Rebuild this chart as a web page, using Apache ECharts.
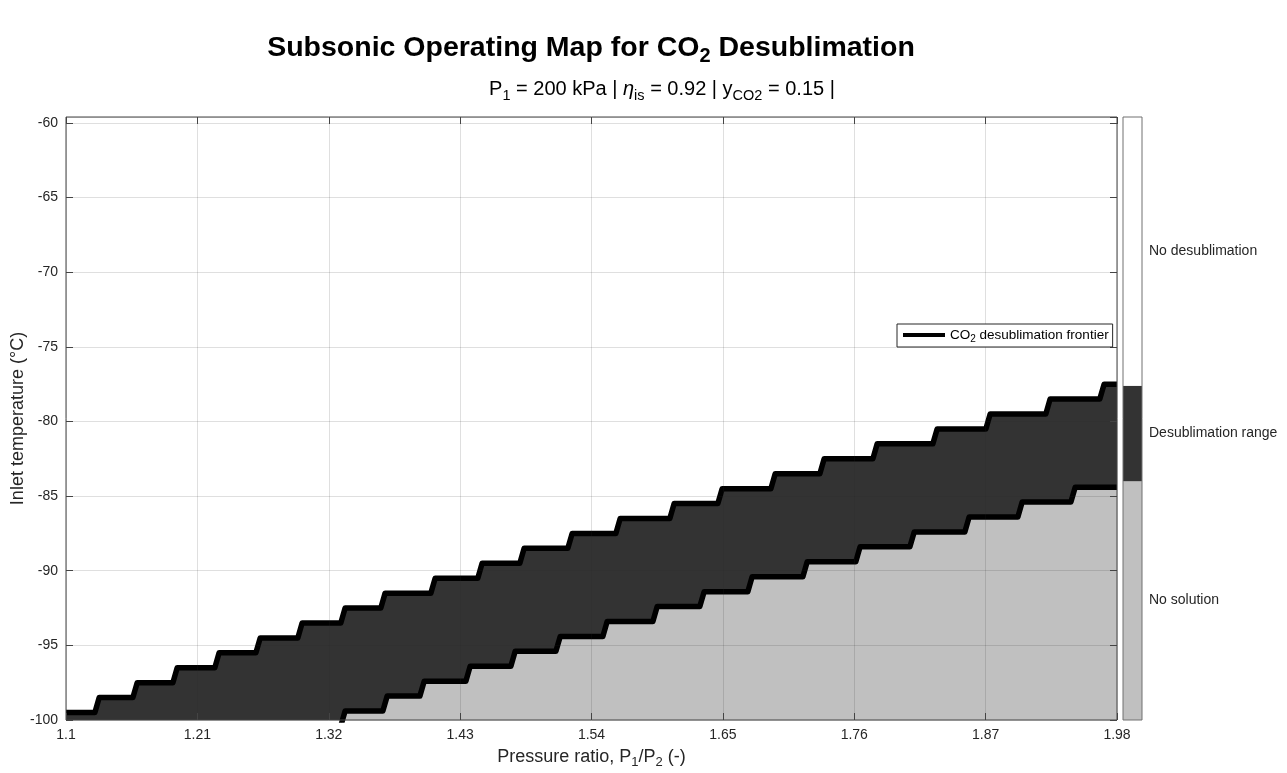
<!DOCTYPE html>
<html>
<head>
<meta charset="UTF-8">
<title>Subsonic Operating Map for CO2 Desublimation</title>
<style>
  html, body { margin: 0; padding: 0; background: #fff; }
  #chart { width: 1287px; height: 773px; }
</style>
<script src="https://cdn.jsdelivr.net/npm/echarts@6.0.0/dist/echarts.min.js"></script>
</head>
<body>
<div id="chart"></div>
<script>
// upper frontier: pressure ratio where the line climbs one step, and the levels (first = level at PR 1.1)
var upperRiseX = [1.1260, 1.1578, 1.1913, 1.2264, 1.2608, 1.2959, 1.3319, 1.3654, 1.4073, 1.4466, 1.4818,
                  1.5220, 1.5622, 1.6074, 1.6476, 1.6920, 1.7330, 1.7774, 1.8276, 1.8720, 1.9222, 1.9674];
var upperLevels = [-99.5, -98.5, -97.5, -96.5, -95.5, -94.5, -93.5, -92.5, -91.5, -90.5, -89.5, -88.5,
                   -87.5, -86.5, -85.5, -84.5, -83.5, -82.5, -81.5, -80.5, -79.5, -78.5, -77.5];

// lower frontier: first rise is where it comes up from below the axis
var lowerRiseX = [1.3319, 1.3671, 1.3981, 1.4366, 1.4743, 1.5120, 1.5513, 1.5932, 1.6325, 1.6727, 1.7188,
                  1.7631, 1.8084, 1.8544, 1.8988, 1.9432];
var lowerLevels = [-100.4, -99.4, -98.4, -97.4, -96.4, -95.4, -94.4, -93.4, -92.4, -91.4, -90.4, -89.4,
                   -88.4, -87.4, -86.4, -85.4, -84.4];

// colorbar: edges (bottom to top) and names
var colorbarEdges = [-100, -84.0, -77.6, -59.6];
var colorbarNames = ['No solution', 'Desublimation range', 'No desublimation'];

var xMin = 1.1, xMax = 1.98, xStep = 0.11;
var yMin = -100, yMax = -59.6, yStep = 5;

var frontierName = 'CO2 desublimation frontier';
var fillColors = ['#c0c0c0', '#333333', '#ffffff'];
var font = "'Liberation Sans', Arial, Helvetica, sans-serif";
var ink = '#262626';

var RISE = 0.0018; // half width of the slanted riser

function staircase(riseX, levels, xStart, xEnd) {
	var pts = [];
	if (xStart != null) pts.push([xStart, levels[0]]);
	for (var i = 0; i < riseX.length; i++) {
		pts.push([riseX[i] - RISE, levels[i]]);
		pts.push([riseX[i] + RISE, levels[i + 1]]);
	}
	pts.push([xEnd, levels[levels.length - 1]]);
	return pts;
}

var upperData = staircase(upperRiseX, upperLevels, xMin, xMax);
var lowerData = staircase(lowerRiseX, lowerLevels, null, xMax);

var colorbarSeries = colorbarNames.map(function (name, i) {
	return {
		name: name,
		type: 'bar',
		xAxisIndex: 2,
		yAxisIndex: 2,
		stack: 'cb',
		barWidth: '100%',
		data: [colorbarEdges[i + 1] - colorbarEdges[i]],
		itemStyle: { color: fillColors[i] },
		label: {
			show: true,
			position: 'right',
			distance: 7,
			formatter: name,
			color: ink,
			fontSize: 14,
			fontFamily: font
		},
		emphasis: { disabled: true }
	};
});

var gridLine = { show: true, lineStyle: { color: 'rgba(38,38,38,0.15)', width: 1 } };
var tick = { show: true, inside: true, length: 7, lineStyle: { color: '#444' } };

var myChart = echarts.init(document.getElementById('chart'));
myChart.setOption({
	animation: false,
	textStyle: { fontFamily: font },
	title: [
		{
			text: '{b|Subsonic Operating Map for CO}{s|2}{b| Desublimation}',
			left: 586,
			textAlign: 'center',
			top: 25,
			textStyle: {
				fontWeight: 'bold',
				rich: {
					b: { fontSize: 28.5, fontWeight: 'bold', color: '#000', fontFamily: font },
					s: { fontSize: 20, fontWeight: 'bold', color: '#000', fontFamily: font, padding: [16, 0, 0, 0] }
				}
			}
		},
		{
			text: '{t|P}{s|1}{t| = 200 kPa | }{i|η}{s|is}{t| = 0.92 | y}{s|CO2}{t| = 0.15 |}',
			left: 657,
			textAlign: 'center',
			top: 71,
			textStyle: {
				fontWeight: 'normal',
				rich: {
					t: { fontSize: 20, fontWeight: 'normal', color: '#000', fontFamily: font },
					i: { fontSize: 20, fontWeight: 'normal', color: '#000', fontFamily: font, fontStyle: 'italic' },
					s: { fontSize: 14.5, fontWeight: 'normal', color: '#000', fontFamily: font, padding: [12, 0, 0, 0] }
				}
			}
		}
	],
	legend: {
		data: [frontierName],
		left: 897,
		top: 324,
		z: 10,
		icon: 'rect',
		backgroundColor: '#fff',
		borderColor: ink,
		borderWidth: 1,
		borderRadius: 0,
		padding: [4, 4, 3, 6],
		itemWidth: 42,
		itemHeight: 4,
		itemStyle: { color: '#000' },
		formatter: function () {
			return '{t|CO}{s|2}{t| desublimation frontier}';
		},
		textStyle: {
			rich: {
				t: { fontSize: 13.5, color: '#000', fontFamily: font },
				s: { fontSize: 10, color: '#000', fontFamily: font, padding: [8, 0, 0, 0] }
			}
		}
	},
	grid: [
		{ left: 66, top: 117, width: 1051, height: 603, outerBoundsMode: 'none', show: true, borderColor: '#444', borderWidth: 1, backgroundColor: 'transparent', z: 6 },
		{ left: 1123, top: 117, width: 19, height: 603, outerBoundsMode: 'none', show: true, borderColor: '#707070', borderWidth: 1, backgroundColor: 'transparent', z: 6 }
	],
	xAxis: [
		{
			gridIndex: 0, type: 'value', position: 'bottom', z: 5,
			min: xMin, max: xMax, interval: xStep,
			axisLine: { show: false },
			axisTick: tick,
			axisLabel: { color: ink, fontSize: 14, margin: 8 },
			splitLine: gridLine,
			name: '{t|Pressure ratio, P}{s|1}{t|/P}{s|2}{t| (-)}',
			nameLocation: 'middle',
			nameGap: 25,
			nameTextStyle: {
				rich: {
					t: { fontSize: 18, color: ink, fontFamily: font },
					s: { fontSize: 13, color: ink, fontFamily: font, padding: [11, 0, 0, 0] }
				}
			}
		},
		{
			gridIndex: 0, type: 'value', position: 'top', z: 5,
			min: xMin, max: xMax, interval: xStep,
			axisLine: { show: false },
			axisTick: tick,
			axisLabel: { show: false },
			splitLine: { show: false }
		},
		{
			gridIndex: 1, type: 'category', data: ['cb'], show: false
		}
	],
	yAxis: [
		{
			gridIndex: 0, type: 'value', position: 'left', z: 5,
			min: yMin, max: yMax, interval: yStep,
			axisLine: { show: false },
			axisTick: tick,
			axisLabel: {
				color: ink, fontSize: 14, margin: 8, showMaxLabel: false,
				formatter: function (v) { return Math.abs(v % 5) < 1e-6 ? String(v) : ''; }
			},
			splitLine: gridLine,
			name: 'Inlet temperature (°C)',
			nameLocation: 'middle',
			nameGap: 39,
			nameMoveOverlap: false,
			nameTextStyle: { fontSize: 18, color: ink }
		},
		{
			gridIndex: 0, type: 'value', position: 'right', z: 5,
			min: yMin, max: yMax, interval: yStep,
			axisLine: { show: false },
			axisTick: tick,
			axisLabel: { show: false },
			splitLine: { show: false }
		},
		{
			gridIndex: 1, type: 'value', show: false,
			min: 0, max: colorbarEdges[colorbarEdges.length - 1] - colorbarEdges[0]
		}
	],
	series: [
		{
			name: frontierName,
			type: 'line',
			xAxisIndex: 0,
			yAxisIndex: 0,
			data: upperData,
			symbol: 'none',
			lineStyle: { color: '#000', width: 5.5, join: 'round' },
			itemStyle: { color: '#000' },
			areaStyle: { color: fillColors[1], opacity: 1, origin: 'start' },
			emphasis: { disabled: true }
		},
		{
			name: frontierName,
			type: 'line',
			xAxisIndex: 0,
			yAxisIndex: 0,
			data: lowerData,
			symbol: 'none',
			lineStyle: { color: '#000', width: 5.5, join: 'round' },
			itemStyle: { color: '#000' },
			areaStyle: { color: fillColors[0], opacity: 1, origin: 'start' },
			emphasis: { disabled: true }
		}
	].concat(colorbarSeries)
});
</script>
</body>
</html>
